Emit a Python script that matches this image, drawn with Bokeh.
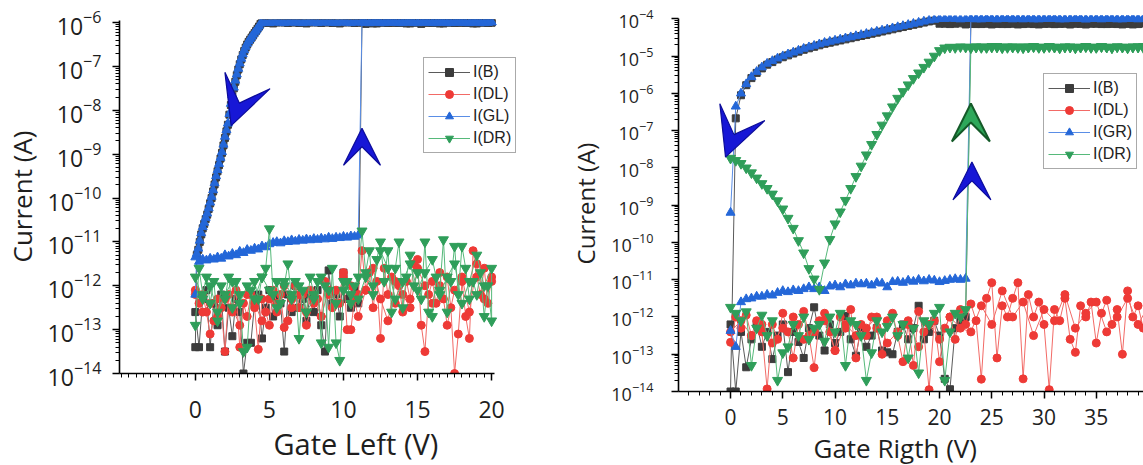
import numpy as np
from bokeh.plotting import figure
from bokeh.layouts import row, column
from bokeh.models import (ColumnDataSource, FixedTicker, Arrow, VeeHead, Title)
from bokeh.embed import file_html
from bokeh.resources import INLINE

# ---------------- DATA (log10 of current in A) ----------------
# LEFT PANEL : Gate Left sweep
# forward sweep 0 -> 11 V (off state), step 0.25 V
lgB_L_fwd_off = [-12.6, -13.4, -12.3, -12.1, -13.4, -12.4, -12.9, -12.2, -13.5, -12.5,
                 -13.15, -12.3, -12.6, -14.0, -13.3, -13.3, -12.4, -12.2, -13.2, -12.5,
                 -12.1, -12.7, -12.3, -12.4, -13.5, -12.2, -12.6, -12.0, -12.5, -12.3,
                 -12.8, -12.2, -12.6, -12.1, -12.9, -13.5, -11.65, -12.4, -12.2, -12.7,
                 -11.7, -12.3, -12.5, -12.1, -12.4]
lgGL_L_fwd_off = [-11.35, -11.45, -11.40, -11.42, -11.38, -11.40, -11.35, -11.38, -11.30, -11.33,
                  -11.27, -11.30, -11.22, -11.25, -11.18, -11.20, -11.15, -11.17, -11.10, -11.12,
                  -11.05, -11.02, -11.00, -11.03, -10.98, -11.00, -10.96, -10.99, -10.95, -10.97,
                  -10.94, -10.96, -10.93, -10.95, -10.92, -10.94, -10.90, -10.93, -10.90, -10.91,
                  -10.88, -10.90, -10.87, -10.88, -10.85]
# forward sweep 11.25 -> 20 V (on state)
lgB_L_fwd_on = [-6.00, -6.03, -5.99, -6.00, -6.02, -6.00, -5.99, -6.01, -6.00,
                -6.00, -6.01, -5.99, -6.00, -6.02, -6.00, -5.99, -6.03, -6.00,
                -6.00, -6.01, -5.99, -6.00, -6.02, -6.00, -5.99, -6.01, -6.00,
                -6.00, -6.01, -5.99, -6.00, -6.02, -6.00, -5.99, -6.01, -6.00]
lgGL_L_fwd_on = [-5.99, -6.00, -6.01, -6.00, -5.99, -6.01, -6.00, -6.00, -5.99,
                 -6.00, -6.01, -6.00, -5.99, -6.00, -6.01, -6.00, -6.00, -5.99,
                 -6.00, -6.01, -6.00, -5.99, -6.00, -6.01, -6.00, -6.00, -5.99,
                 -6.00, -6.01, -6.00, -5.99, -6.00, -6.01, -6.00, -6.00, -5.99]
# backward sweep 20 -> 4.5 V (on state), step 0.25 V
lgB_L_bwd_on = [-6.00, -6.01, -6.00, -5.99, -6.00, -6.02, -6.00, -6.01, -5.99,
                -6.00, -6.01, -6.00, -5.99, -6.00, -6.02, -6.00, -6.01, -5.99,
                -6.00, -6.01, -6.00, -5.99, -6.00, -6.02, -6.00, -6.01, -5.99,
                -6.00, -6.01, -6.00, -5.99, -6.00, -6.02, -6.00, -6.01, -5.99,
                -6.00, -6.01, -6.00, -5.99, -6.00, -6.02, -6.00, -6.01, -5.99,
                -6.00, -6.01, -6.00, -5.99, -6.00, -6.02, -6.00, -6.01, -5.99,
                -6.00, -6.01, -6.00, -5.99, -6.00, -6.02, -6.00, -6.01, -5.99]
lgGL_L_bwd_on = [-5.99, -6.00, -6.01, -6.00, -5.99, -6.00, -6.01, -6.00, -6.00,
                 -5.99, -6.00, -6.01, -6.00, -5.99, -6.00, -6.01, -6.00, -6.00,
                 -5.99, -6.00, -6.01, -6.00, -5.99, -6.00, -6.01, -6.00, -6.00,
                 -5.99, -6.00, -6.01, -6.00, -5.99, -6.00, -6.01, -6.00, -6.00,
                 -5.99, -6.00, -6.01, -6.00, -5.99, -6.00, -6.01, -6.00, -6.00,
                 -5.99, -6.00, -6.01, -6.00, -5.99, -6.00, -6.01, -6.00, -6.00,
                 -5.99, -6.00, -6.01, -6.00, -5.99, -6.00, -6.01, -6.00, -6.00]
# backward sweep 4.4 -> 0 V (turn-off), step 0.1 V
lgB_L_bwd_down = [-6.03, -6.09, -6.14, -6.19, -6.24,
                  -6.29, -6.34, -6.39, -6.44, -6.50, -6.57, -6.65, -6.74, -6.84, -6.95,
                  -7.07, -7.20, -7.35, -7.50, -7.68, -7.88, -8.10, -8.33, -8.48, -8.63,
                  -8.80, -8.97, -9.10, -9.25, -9.39, -9.53, -9.69, -9.85, -10.00, -10.12,
                  -10.25, -10.38, -10.48, -10.59, -10.69, -10.83, -11.00, -11.18, -11.30, -13.40]
lgGL_L_bwd_down = [-6.02, -6.08, -6.13, -6.18, -6.22,
                   -6.27, -6.32, -6.37, -6.42, -6.48, -6.55, -6.63, -6.72, -6.82, -6.93,
                   -7.05, -7.18, -7.32, -7.48, -7.65, -7.85, -8.08, -8.30, -8.45, -8.60,
                   -8.78, -8.95, -9.08, -9.22, -9.36, -9.50, -9.66, -9.82, -9.97, -10.10,
                   -10.23, -10.35, -10.45, -10.56, -10.66, -10.80, -10.97, -11.15, -11.27, -12.20]
# drain currents, forward 0 -> 20 V (step 0.25 V)
lgDL_L_fwd = [-12.1, -12.4, -12.2, -12.6, -13.1, -12.8, -12.3, -12.5, -13.5, -12.2,
              -12.6, -12.1, -13.4, -12.4, -12.7, -12.2, -12.5, -13.45, -12.3, -12.6,
              -12.9, -12.1, -12.4, -12.2, -12.95, -12.8, -12.3, -12.0, -12.5, -12.2,
              -12.6, -12.1, -12.4, -12.3, -12.7, -11.9, -12.2, -12.5, -12.1, -12.4,
              -11.7, -13.0, -13.0, -12.3, -12.2, -11.2, -12.1, -11.7, -12.5, -11.9,
              -13.2, -11.6, -12.2, -11.8, -12.4, -12.0, -12.6, -11.9, -12.3, -11.5,
              -11.4, -12.9, -13.5, -12.2, -11.9, -12.4, -12.0, -12.3, -11.8, -12.5,
              -14.0, -13.1, -11.9, -12.7, -13.2, -11.2, -11.8, -12.2, -11.6, -12.4,
              -11.8]
lgDR_L_fwd = [-12.9, -11.6, -12.2, -11.8, -12.4, -11.9, -12.8, -12.0, -12.3, -11.8,
              -12.5, -11.9, -12.2, -13.5, -13.4, -12.1, -11.9, -12.3, -11.8, -11.6,
              -10.7, -12.2, -11.9, -12.4, -12.0, -11.5, -12.3, -11.9, -13.2, -12.1,
              -12.6, -11.8, -12.2, -11.9, -13.3, -12.0, -13.4, -11.6, -13.3, -13.7,
              -12.1, -11.9, -12.4, -12.0, -11.8, -10.75, -11.7, -11.2, -12.2, -11.4,
              -11.0, -11.9, -11.2, -12.6, -11.6, -11.0, -12.5, -11.8, -11.3, -12.0,
              -11.7, -12.3, -11.0, -12.6, -12.7, -11.8, -12.1, -10.95, -12.6, -11.9,
              -11.1, -12.2, -11.1, -11.6, -12.3, -11.9, -12.2, -11.7, -12.7, -12.0,
              -12.8]
# drain currents, backward 20 -> 0 V (step 0.5 V)
lgDL_L_bwd = [-11.9, -12.3, -11.5, -12.6, -11.8, -12.1, -12.9, -11.7, -12.4, -12.0,
              -11.6, -12.5, -12.2, -11.9, -12.8, -12.3, -11.6, -12.1, -12.7, -12.0,
              -11.8, -12.4, -12.1, -12.7, -12.3, -12.9, -12.2, -12.5, -12.0, -12.6,
              -12.3, -12.8, -12.4, -12.2, -12.9, -12.5, -12.3, -12.7, -12.4, -12.6,
              -12.2]
lgDR_L_bwd = [-11.6, -12.0, -11.3, -11.9, -12.4, -11.5, -11.8, -12.2, -11.4, -11.7,
              -12.1, -11.5, -11.9, -12.3, -11.6, -11.2, -12.0, -11.8, -12.3, -12.2,
              -11.9, -12.4, -12.1, -11.8, -12.3, -12.6, -12.0, -12.2, -11.9, -12.5,
              -12.1, -11.8, -12.3, -12.0, -12.4, -11.9, -12.2, -12.6, -12.0, -12.3,
              -11.8]

# RIGHT PANEL : Gate Right sweep
# forward 0 -> 22.5 V (off state), step 0.5 V
lgB_R_fwd_off = [-12.2, -14.0, -12.4, -13.35, -12.6, -12.2, -12.8, -12.4, -13.13, -12.5,
                 -12.2, -13.48, -12.4, -12.67, -13.1, -12.3, -11.74, -12.5, -12.9, -12.2,
                 -12.7, -12.4, -11.97, -12.6, -13.04, -12.3, -12.8, -12.5, -12.3, -12.9,
                 -12.95, -13.0, -12.4, -12.2, -12.6, -12.3, -11.7, -12.6, -12.4, -12.1,
                 -12.5, -13.66, -13.94, -12.3, -12.1, -12.0]
lgGR_R_fwd_off = [-12.37, -12.8, -11.6, -11.52, -11.5, -11.45, -11.45, -11.4, -11.42, -11.35,
                  -11.3, -11.33, -11.28, -11.3, -11.25, -11.2, -11.25, -11.2, -11.3, -11.18,
                  -11.15, -11.2, -11.12, -11.15, -11.1, -11.12, -11.1, -11.15, -11.08, -11.1,
                  -11.2, -11.06, -11.05, -11.08, -11.02, -11.05, -11.0, -11.04, -11.0, -11.02,
                  -11.06, -11.03, -11.0, -10.98, -11.0, -10.97]
lgDR_R_fwd_off = [-11.74, -11.9, -12.1, -11.86, -13.3, -12.3, -11.95, -12.5, -12.1, -13.7,
                  -12.96, -12.8, -12.2, -12.5, -12.0, -12.6, -12.3, -12.2, -12.65, -12.0,
                  -12.4, -11.9, -13.3, -12.1, -12.2, -12.5, -13.7, -12.96, -12.1, -12.4,
                  -12.25, -12.0, -12.5, -12.2, -13.1, -12.3, -13.5, -12.1, -12.2, -11.9,
                  -11.74, -13.7, -12.4, -11.9, -12.0, -11.8]
# forward 23 -> 40 V (on state)
lgB_R_fwd_on = [-4.13, -4.14, -4.12, -4.13, -4.15, -4.13, -4.12, -4.14, -4.13, -4.13, -4.14, -4.12,
                -4.13, -4.15, -4.13, -4.12, -4.14, -4.13, -4.13, -4.14, -4.12, -4.13, -4.15, -4.13,
                -4.12, -4.14, -4.13, -4.13, -4.14, -4.12, -4.13, -4.15, -4.13, -4.12, -4.14]
lgGR_R_fwd_on = [-4.00, -4.01, -4.00, -3.99, -4.00, -4.01, -4.00, -4.00, -3.99, -4.00, -4.01, -4.00,
                 -4.00, -4.01, -4.00, -3.99, -4.00, -4.01, -4.00, -4.00, -3.99, -4.00, -4.01, -4.00,
                 -4.00, -4.01, -4.00, -3.99, -4.00, -4.01, -4.00, -4.00, -3.99, -4.00, -4.01]
lgDR_R_fwd_on = [-4.76, -4.75, -4.77, -4.76, -4.74, -4.76, -4.78, -4.75, -4.76, -4.77, -4.75, -4.76,
                 -4.74, -4.76, -4.77, -4.75, -4.76, -4.78, -4.76, -4.75, -4.77, -4.76, -4.74, -4.76,
                 -4.77, -4.75, -4.76, -4.78, -4.75, -4.76, -4.77, -4.75, -4.76, -4.74, -4.76]
# backward 40 -> 20.5 V (on state)
lgB_R_bwd_on = [-4.13, -4.12, -4.14, -4.13, -4.13, -4.15, -4.12, -4.13, -4.14, -4.13,
                -4.13, -4.12, -4.14, -4.13, -4.13, -4.15, -4.12, -4.13, -4.14, -4.13,
                -4.13, -4.12, -4.14, -4.13, -4.13, -4.15, -4.12, -4.13, -4.14, -4.13,
                -4.13, -4.12, -4.14, -4.13, -4.13, -4.15, -4.12, -4.13, -4.14, -4.13]
lgGR_R_bwd_on = [-4.00, -4.00, -4.01, -3.99, -4.00, -4.00, -4.01, -4.00, -3.99, -4.00,
                 -4.00, -4.00, -4.01, -3.99, -4.00, -4.00, -4.01, -4.00, -3.99, -4.00,
                 -4.00, -4.00, -4.01, -3.99, -4.00, -4.00, -4.01, -4.00, -3.99, -4.00,
                 -4.00, -4.00, -4.01, -3.99, -4.00, -4.00, -4.01, -4.00, -3.99, -4.00]
lgDR_R_bwd_on = [-4.76, -4.77, -4.75, -4.76, -4.78, -4.76, -4.75, -4.77, -4.76, -4.74,
                 -4.76, -4.77, -4.75, -4.76, -4.78, -4.76, -4.75, -4.77, -4.76, -4.74,
                 -4.76, -4.77, -4.75, -4.76, -4.78, -4.76, -4.75, -4.77, -4.76, -4.74,
                 -4.76, -4.77, -4.75, -4.76, -4.78, -4.76, -4.75, -4.77, -4.76, -4.78]
# backward 20 -> 0 V, step 0.5 V
lgB_R_bwd_down = [-4.13, -4.05, -4.07, -4.10, -4.13, -4.16, -4.19, -4.22, -4.25, -4.28,
                  -4.31, -4.34, -4.37, -4.40, -4.43, -4.46, -4.49, -4.52, -4.55, -4.58,
                  -4.61, -4.64, -4.67, -4.71, -4.75, -4.79, -4.83, -4.88, -4.93, -4.98,
                  -5.03, -5.09, -5.16, -5.23, -5.33, -5.45, -5.59, -5.78, -6.05, -6.67,
                  -14.0]
lgGR_R_bwd_down = [-4.00, -4.02, -4.04, -4.07, -4.10, -4.13, -4.16, -4.19, -4.22, -4.25,
                   -4.28, -4.31, -4.34, -4.37, -4.40, -4.43, -4.46, -4.49, -4.52, -4.55,
                   -4.58, -4.61, -4.64, -4.68, -4.72, -4.76, -4.80, -4.85, -4.90, -4.95,
                   -5.00, -5.06, -5.13, -5.20, -5.30, -5.42, -5.56, -5.75, -6.00, -6.35,
                   -9.20]
lgDR_R_bwd_down = [-4.85, -5.00, -5.16, -5.30, -5.45, -5.60, -5.77, -5.95, -6.13, -6.36,
                   -6.60, -6.85, -7.10, -7.37, -7.65, -7.95, -8.23, -8.55, -8.87, -9.18,
                   -9.50, -9.92, -10.55, -11.26, -10.98, -10.70, -10.28, -9.95, -9.62, -9.35,
                   -9.10, -8.88, -8.70, -8.55, -8.42, -8.27, -8.13, -8.00, -7.88, -7.80,
                   -7.74]
# left drain current, forward 0 -> 40 V (step 0.5 V)
lgDL_R_fwd = [-12.68, -12.0, -12.3, -11.95, -12.5, -12.1, -12.4, -13.93, -12.2, -12.6,
              -11.9, -12.4, -13.1, -12.2, -11.85, -12.5, -13.36, -12.1, -11.9, -12.4,
              -12.9, -12.0, -12.3, -11.8, -13.1, -12.2, -12.5, -12.0, -12.3, -13.0,
              -12.1, -11.9, -12.5, -13.2, -12.2, -13.3, -11.85, -12.4, -13.95, -12.1,
              -13.2, -12.3, -12.0, -12.6, -11.8, -12.2, -11.65, -12.1, -13.67, -11.5,
              -11.08, -13.1, -11.7, -12.0, -11.5, -11.08, -13.66, -11.4, -12.0, -11.6,
              -12.2, -13.95, -11.8, -12.1, -11.5, -12.6, -12.95, -11.7, -12.0, -11.6,
              -12.7, -11.9, -11.55, -12.2, -11.8, -13.0, -11.3, -12.0, -11.7, -12.3,
              -11.9]
# left drain current, backward 40 -> 0 V (step 1 V)
lgDL_R_bwd = [-11.7, -12.2, -11.5, -12.0, -12.4, -11.6, -11.9, -12.3, -11.4, -12.1,
              -11.8, -12.5, -11.6, -12.0, -11.3, -12.2, -11.7, -12.4, -12.3, -12.0,
              -12.6, -12.2, -12.8, -12.1, -12.4, -12.7, -12.0, -12.3, -12.5, -12.2,
              -12.9, -12.1, -12.4, -12.6, -12.0, -12.3, -12.7, -12.2, -12.5, -12.1,
              -12.4]

LABELS_L = ["I(B)", "I(DL)", "I(GL)", "I(DR)"]
LABELS_R = ["I(B)", "I(DL)", "I(GR)", "I(DR)"]
X_TICKS_L = [0, 5, 10, 15, 20]
X_TICKS_R = [0, 5, 10, 15, 20, 25, 30, 35]
DECADES_L = list(range(-14, -5))
DECADES_R = list(range(-14, -3))

STY = {
    "B":  dict(fill="#3c3c3c", line="#5a5a5a", marker="square", size=7),
    "DL": dict(fill="#ee3a36", line="#f26a66", marker="circle", size=8),
    "G":  dict(fill="#2467d8", line="#5a8ee6", marker="triangle", size=9),
    "DR": dict(fill="#2f9e5a", line="#56b97a", marker="inverted_triangle", size=10),
}
AX_FONT = "Open Sans"
TXT = "#1e1e1e"


def seg(parts):
    xs, ys = [], []
    for (a, b, vals) in parts:
        xs.append(np.linspace(a, b, len(vals)))
        ys.append(np.array(vals, dtype=float))
    return np.concatenate(xs), 10.0 ** np.concatenate(ys)


def add_series(p, x, y, key, label):
    s = STY[key]
    src = ColumnDataSource(dict(x=x, y=y))
    p.line("x", "y", source=src, line_color=s["line"], line_width=1, legend_label=label)
    p.scatter("x", "y", source=src, marker=s["marker"], size=s["size"],
              fill_color=s["fill"], line_color=s["fill"], legend_label=label)


def style(p, xticks, xminor, decades, ytick_size, xtick_size, ystand, xstand,
          ylabel_size, ylabel_standoff):
    p.xgrid.visible = False
    p.ygrid.visible = False
    p.outline_line_color = None
    p.background_fill_color = "white"
    p.border_fill_color = "white"
    ax, ay = p.xaxis[0], p.yaxis[0]
    ax.ticker = FixedTicker(ticks=xticks, minor_ticks=xminor)
    ay.ticker = FixedTicker(ticks=[10.0 ** d for d in decades],
                            minor_ticks=[m * 10.0 ** d for d in decades[:-1] for m in range(2, 10)])
    for a in (ax, ay):
        a.axis_line_color = "black"
        a.axis_line_width = 1.6
        a.major_tick_line_color = "black"
        a.major_tick_line_width = 1.5
        a.minor_tick_line_color = "black"
        a.minor_tick_line_width = 1
        a.major_tick_in = 0
        a.major_tick_out = 7
        a.minor_tick_in = 0
        a.minor_tick_out = 4
        a.major_label_text_font = AX_FONT
        a.major_label_text_color = TXT
    ay.major_label_text_font_size = ytick_size
    ax.major_label_text_font_size = xtick_size
    ay.major_label_standoff = ystand
    ax.major_label_standoff = xstand
    ay.axis_label = "Current (A)"
    ay.axis_label_text_font = AX_FONT
    ay.axis_label_text_font_style = "normal"
    ay.axis_label_text_font_size = ylabel_size
    ay.axis_label_text_color = TXT
    ay.axis_label_standoff = ylabel_standoff


def style_legend(p, loc):
    lg = p.legend[0]
    lg.location = loc
    lg.glyph_width = 42
    lg.glyph_height = 20
    lg.label_standoff = 3
    lg.padding = 4
    lg.spacing = 2
    lg.margin = 0
    lg.label_text_font = "Liberation Sans"
    lg.label_text_font_size = "16px"
    lg.label_text_color = "#222222"
    lg.border_line_color = "#555555"
    lg.border_line_width = 1.5
    lg.background_fill_color = "white"
    lg.background_fill_alpha = 1.0


def vee(p, xs, ys, xe, ye, size, fill, line, lw=1.2):
    p.add_layout(Arrow(end=VeeHead(size=size, fill_color=fill, line_color=line, line_width=lw),
                       x_start=xs, y_start=ys, x_end=xe, y_end=ye, line_alpha=0))


H = 465

# ---------------- LEFT FIGURE ----------------
p1 = figure(width=560, height=H, x_range=(-5.118, 21.95), y_range=(1e-14, 10 ** -5.93),
            y_axis_type="log", output_backend="svg", toolbar_location=None,
            min_border_left=118, min_border_right=40, min_border_top=19,
            min_border_bottom=H - 373)

xB, yB = seg([(0, 11, lgB_L_fwd_off), (11.25, 20, lgB_L_fwd_on),
              (20, 4.5, lgB_L_bwd_on), (4.4, 0, lgB_L_bwd_down)])
xDL, yDL = seg([(0, 20, lgDL_L_fwd), (20, 0, lgDL_L_bwd)])
xG, yG = seg([(0, 11, lgGL_L_fwd_off), (11.25, 20, lgGL_L_fwd_on),
              (20, 4.5, lgGL_L_bwd_on), (4.4, 0, lgGL_L_bwd_down)])
xDR, yDR = seg([(0, 20, lgDR_L_fwd), (20, 0, lgDR_L_bwd)])
add_series(p1, xB, yB, "B", LABELS_L[0])
add_series(p1, xDL, yDL, "DL", LABELS_L[1])
add_series(p1, xG, yG, "G", LABELS_L[2])
add_series(p1, xDR, yDR, "DR", LABELS_L[3])

style(p1, X_TICKS_L, list(np.arange(-5, 20.01, 0.5)), DECADES_L,
      "23px", "23px", 11, 20, "26px", 5)
p1.xaxis[0].bounds = (-5.118, 20.2)
p1.yaxis[0].bounds = (1e-14, 1.1e-6)
style_legend(p1, (304, 220))
p1.add_layout(Title(text="Gate Left (V)", align="left", offset=154, standoff=2,
                    text_font=AX_FONT, text_font_size="29px", text_font_style="normal",
                    text_color=TXT), "below")
vee(p1, 3.40, 10 ** -7.435, 2.42, 10 ** -8.35, 48, "#1717d6", "#0c0c9a")
vee(p1, 11.25, 10 ** -9.14, 11.25, 10 ** -8.41, 37, "#1717d6", "#0c0c9a")

# ---------------- RIGHT FIGURE ----------------
p2 = figure(width=583, height=H, x_range=(-4.98, 39.52), y_range=(1e-14, 10 ** -3.91),
            y_axis_type="log", output_backend="svg", toolbar_location=None,
            min_border_left=118, min_border_right=0, min_border_top=15,
            min_border_bottom=H - 392)

xB2, yB2 = seg([(0, 22.5, lgB_R_fwd_off), (23, 40, lgB_R_fwd_on),
                (40, 20.5, lgB_R_bwd_on), (20, 0, lgB_R_bwd_down)])
xDL2, yDL2 = seg([(0, 40, lgDL_R_fwd), (40, 0, lgDL_R_bwd)])
xG2, yG2 = seg([(0, 22.5, lgGR_R_fwd_off), (23, 40, lgGR_R_fwd_on),
                (40, 20.5, lgGR_R_bwd_on), (20, 0, lgGR_R_bwd_down)])
xDR2, yDR2 = seg([(0, 22.5, lgDR_R_fwd_off), (23, 40, lgDR_R_fwd_on),
                  (40, 20.5, lgDR_R_bwd_on), (20, 0, lgDR_R_bwd_down)])
add_series(p2, xB2, yB2, "B", LABELS_R[0])
add_series(p2, xDL2, yDL2, "DL", LABELS_R[1])
add_series(p2, xG2, yG2, "G", LABELS_R[2])
add_series(p2, xDR2, yDR2, "DR", LABELS_R[3])

style(p2, X_TICKS_R, list(np.arange(-4, 39.01, 1.0)), DECADES_R,
      "18px", "21px", 18, 10, "24px", 6)
p2.yaxis[0].bounds = (1e-14, 1.05e-4)
style_legend(p2, (365, 222))
p2.add_layout(Title(text="Gate Rigth (V)", align="left", offset=135, standoff=0,
                    text_font=AX_FONT, text_font_size="26px", text_font_style="normal",
                    text_color=TXT), "below")
vee(p2, 0.96, 10 ** -6.63, -0.48, 10 ** -7.71, 48, "#1717d6", "#0c0c9a")
vee(p2, 23.0, 10 ** -7.18, 23.0, 10 ** -6.27, 38, "#2ea85a", "#145a28", 2)
vee(p2, 23.1, 10 ** -8.76, 23.1, 10 ** -7.84, 38, "#1717d6", "#0c0c9a")

layout = row(column(p1), column(p2))
open("out.html", "w").write(file_html(layout, INLINE))
